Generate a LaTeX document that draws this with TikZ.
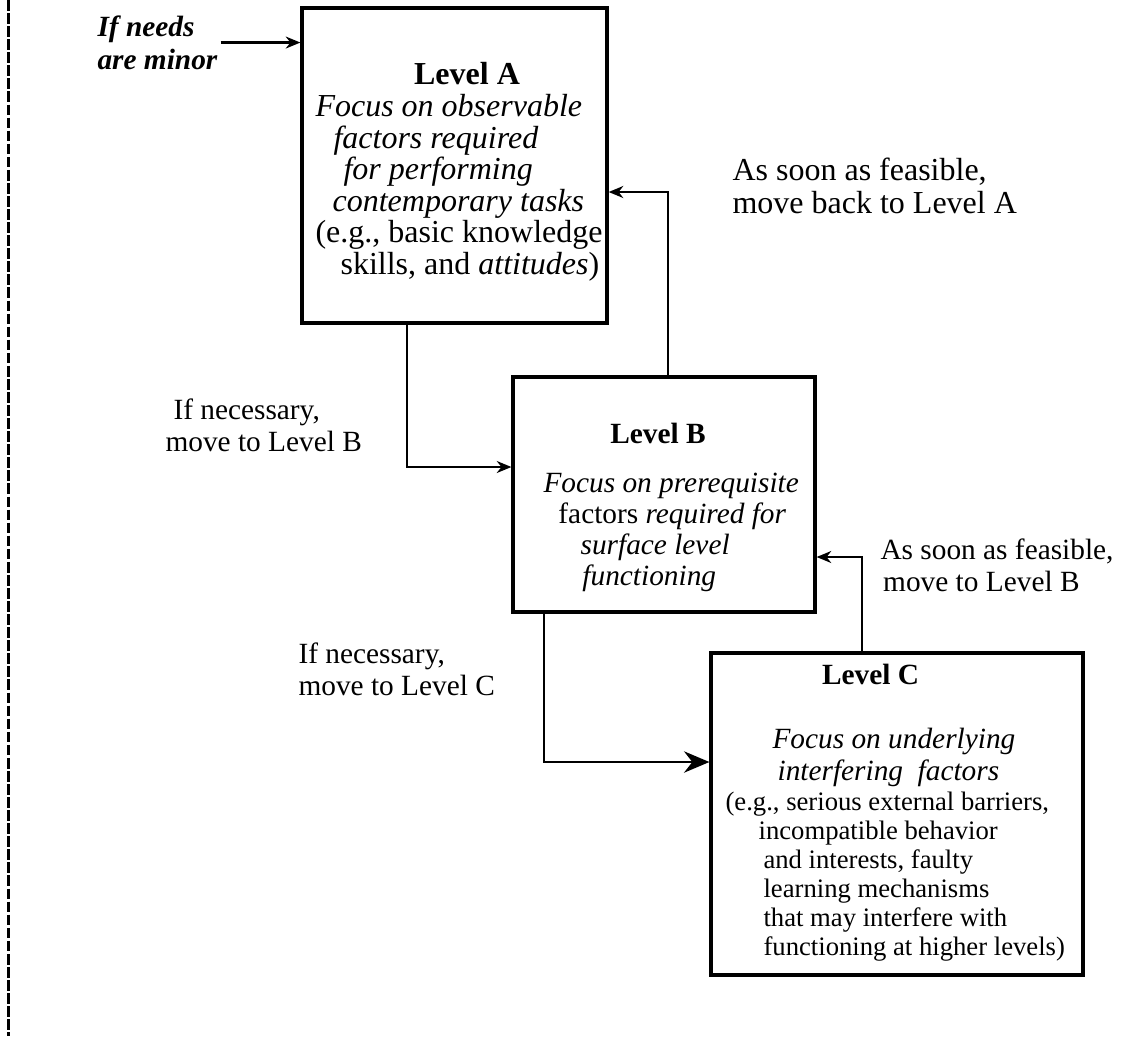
\documentclass[tikz,border=0pt]{standalone}
\usepackage{fontspec}
\setmainfont{Liberation Serif}
\usetikzlibrary{arrows.meta}

\begin{document}
\begin{tikzpicture}[x=0.375pt, y=-0.375pt, >={Stealth[length=5.5pt, width=4.5pt]},
    levelbox/.style={draw, line width=1.2pt, inner sep=0pt},
    lbl/.style={inner sep=0pt, align=left, anchor=north west},
    bigtxt/.style={font=\fontsize{12}{12.4}\selectfont},
    midtxt/.style={font=\fontsize{11}{12}\selectfont},
    smalltxt/.style={font=\fontsize{10}{10.9}\selectfont}]
  \useasboundingbox (0,0) rectangle (1146,1036);
  \draw[line width=1.1pt, dash pattern=on 4pt off 0.9pt] (8.5,0) -- (8.5,1036);

  % the three levels
  \node[levelbox, minimum width=114.4pt, minimum height=118.1pt] (LA) at (454.5,165.5) {};
  \node[levelbox, minimum width=113.25pt, minimum height=88.1pt] (LB) at (664,494.5) {};
  \node[levelbox, minimum width=139.5pt, minimum height=120.75pt] (LC) at (897,814) {};

  \node[anchor=base, inner sep=0pt, font=\fontsize{12}{12.4}\selectfont\bfseries] (tA) at (467,84) {Level A};
  \node[lbl, font=\fontsize{12}{11.8}\selectfont] (bA) at (315,94) {\textit{Focus on observable}\\
    \hspace*{6.75pt}\textit{factors required}\\
    \hspace*{10.5pt}\textit{for performing}\\
    \hspace*{6.4pt}\textit{contemporary tasks}\\
    (e.g., basic knowledge\\
    \hspace*{9.4pt}skills, and \textit{attitudes})};

  \node[anchor=base, inner sep=0pt, font=\fontsize{11}{12}\selectfont\bfseries] (tB) at (658,443) {Level B};
  \node[lbl, font=\fontsize{11}{11.6}\selectfont] (bB) at (543,473) {\textit{Focus on prerequisite}\\
    \hspace*{5.6pt}factors \textit{required for}\\
    \hspace*{13.9pt}\textit{surface level}\\
    \hspace*{14.6pt}\textit{functioning}};

  \node[anchor=base, inner sep=0pt, font=\fontsize{11}{12}\selectfont\bfseries] (tC) at (870.5,684) {Level C};
  \node[lbl, font=\fontsize{11}{12}\selectfont\itshape] (bC) at (772,728) {Focus on underlying\\
    \hspace*{1.9pt}interfering\ \ factors};
  \node[lbl, smalltxt] (eC) at (725,791) {(e.g., serious external barriers,\\
    \hspace*{12.4pt}incompatible behavior\\
    \hspace*{14.25pt}and interests, faulty\\
    \hspace*{14.25pt}learning mechanisms\\
    \hspace*{14.25pt}that may interfere with\\
    \hspace*{14.25pt}functioning at higher levels)};

  % labels on the connectors
  \node[lbl, font=\fontsize{11}{12.4}\selectfont\bfseries\itshape] (minor) at (97,15) {If needs\\are minor};
  \node[lbl, bigtxt] (backA) at (732,157) {As soon as feasible,\\move back to Level A};
  \node[lbl, midtxt] (needB) at (165,398) {\hspace*{3pt}If necessary,\\move to Level B};
  \node[lbl, midtxt] (backB) at (880,538) {As soon as feasible,\\\hspace*{1pt}move to Level B};
  \node[lbl, midtxt] (needC) at (298,642) {If necessary,\\move to Level C};

  \coordinate (ab) at (407,467);
  \coordinate (ba) at (668,192);
  \coordinate (bc) at (544,762);
  \coordinate (cb) at (862,557);
  \draw[->, thick] ([xshift=1pt]minor.east) -- (LA.west |- minor.east);
  \draw[->, thick] (LA.south -| ab) -- (ab) -- (LB.west |- ab);
  \draw[->, thick] (LB.north -| ba) -- (ba) -- (LA.east |- ba);
  \draw[-{Stealth[length=9.5pt, width=8pt]}, thick] (LB.south -| bc) -- (bc) -- (LC.west |- bc);
  \draw[->, thick] (LC.north -| cb) -- (cb) -- (LB.east |- cb);
\end{tikzpicture}
\end{document}
